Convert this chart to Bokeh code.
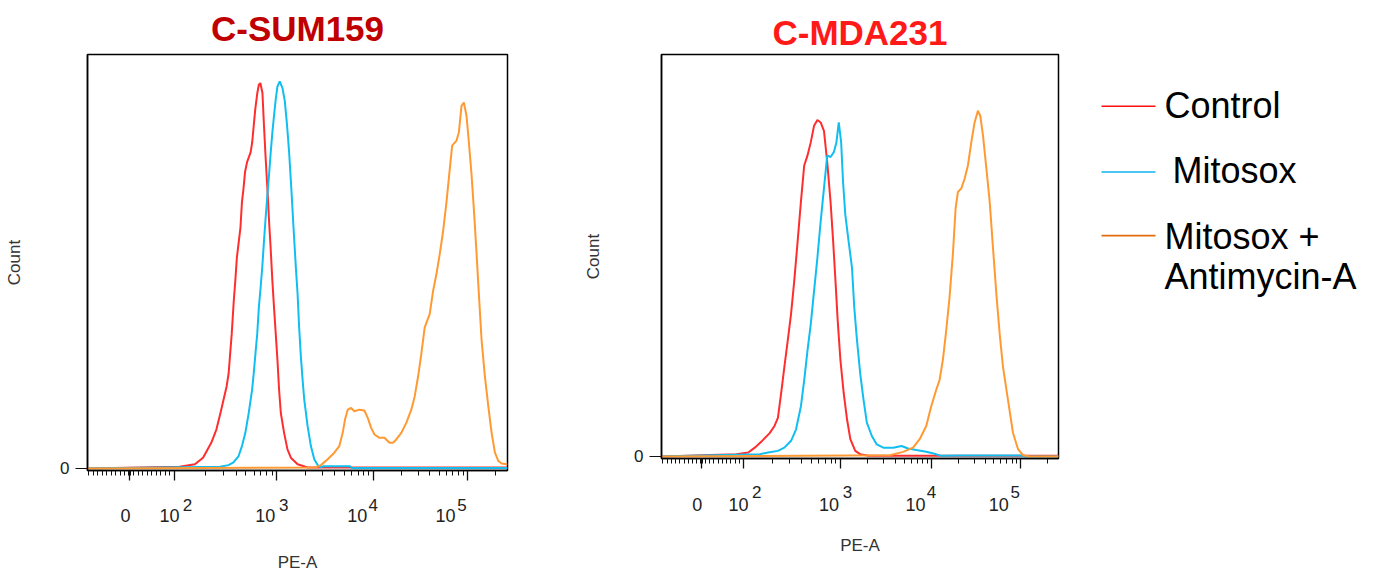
import numpy as np
from bokeh.plotting import figure
from bokeh.models import Range1d, FixedTicker, LinearAxis, Title
from bokeh.layouts import row
from bokeh.core.properties import value
from bokeh.embed import file_html
from bokeh.resources import INLINE

# ---------------- data (x = log10 of PE-A intensity, y = % of max count scale) ----------
series_names = ["Control", "Mitosox", "Mitosox + Antimycin-A"]
legend_lines = [["Control"], ["Mitosox"], ["Mitosox +", "Antimycin-A"]]
titles = ["C-SUM159", "C-MDA231"]

sum_ctrl_x = [2.05, 2.2, 2.28, 2.36, 2.41, 2.45, 2.48, 2.51, 2.53, 2.545, 2.56, 2.58, 2.595, 2.61, 2.645,
              2.66, 2.675, 2.69, 2.71, 2.745, 2.76, 2.775, 2.79, 2.81, 2.825, 2.84, 2.86, 2.875, 2.89, 2.91,
              2.925, 2.94, 2.957, 2.973, 2.99, 3.007, 3.024, 3.042, 3.076, 3.111, 3.146, 3.216, 3.32]
sum_ctrl_y = [0.4, 1.0, 2.6, 6.2, 9.4, 13.4, 16.6, 19.8, 23, 27.8, 32.5, 40.5, 45.3, 50.9, 58.1,
              64.4, 67.6, 71.6, 74, 76.4, 78.8, 82.8, 86.8, 90.7, 92.7, 93.1, 90.7, 82.8, 75.6, 66.8,
              59.6, 53.3, 45.3, 38.9, 32.5, 26.2, 19, 13.4, 8.6, 4.6, 2.6, 1.0, 0.24]

sum_mito_x = [2.446, 2.528, 2.577, 2.627, 2.66, 2.693, 2.726, 2.759, 2.775, 2.792, 2.809, 2.825, 2.842,
              2.858, 2.875, 2.891, 2.908, 2.924, 2.941, 2.957, 2.973, 2.99, 3.007, 3.031, 3.059, 3.083,
              3.104, 3.128, 3.153, 3.174, 3.198, 3.216, 3.232, 3.25, 3.268, 3.285, 3.32, 3.354, 3.389,
              3.424, 3.458, 3.48, 3.76, 3.78]
sum_mito_y = [0.4, 0.8, 1.44, 3.0, 5.4, 8.6, 13.4, 19, 23, 27.8, 32.5, 38.9, 43.7,
              48.5, 54.9, 60.5, 66, 70.8, 76.4, 81.2, 85.2, 89.2, 92.3, 93.5, 91.9, 88.8,
              83.6, 76.4, 66.8, 58.1, 48.5, 42.1, 34.1, 27, 21.4, 16.6, 10.2, 5.4, 2.2,
              0.8, 0.24, 0.5, 0.5, 0.1]

sum_anti_x = [3.406, 3.458, 3.528, 3.597, 3.649, 3.684, 3.708, 3.736, 3.771, 3.805, 3.857, 3.909, 3.944,
              3.979, 4.014, 4.067, 4.12, 4.173, 4.21, 4.245, 4.298, 4.351, 4.404, 4.44, 4.476, 4.511,
              4.546, 4.599, 4.635, 4.67, 4.705, 4.741, 4.777, 4.812, 4.837, 4.883, 4.908, 4.936, 4.961,
              4.989, 5.014, 5.043, 5.071, 5.096, 5.12, 5.149, 5.184, 5.22, 5.255, 5.29, 5.326, 5.362, 5.415]
sum_anti_y = [0.24, 0.8, 2.2, 3.8, 5.4, 8.6, 11.8, 14.2, 14.6, 13.8, 14.2, 14.0, 12.2,
              9.8, 8.2, 7.4, 7.4, 6.2, 6.2, 7.0, 8.6, 11, 14.2, 17.4, 22.2, 27.8,
              34.1, 37.3, 42.9, 46.9, 51.7, 57.3, 64.4, 72.4, 78, 79.2, 81.2, 87.6, 88.4,
              85.2, 78.8, 70.8, 61.2, 51.7, 42.1, 30.9, 22.2, 15, 8.6, 3.8, 1.8, 1.2, 1.0]

mda_ctrl_x = [1.92, 2.048, 2.115, 2.184, 2.269, 2.319, 2.354, 2.388, 2.421, 2.456, 2.49, 2.523, 2.558,
              2.592, 2.626, 2.66, 2.694, 2.728, 2.762, 2.796, 2.83, 2.864, 2.898, 2.925, 2.949, 2.972,
              3.0, 3.036, 3.073, 3.109, 3.163, 3.217, 3.308]
mda_ctrl_y = [0.57, 1.0, 2.2, 3.7, 5.8, 7.6, 9.6, 15.8, 22.3, 28.9, 35.5, 43.7, 53.5,
              63.4, 72.4, 74.9, 78.2, 82.3, 83.7, 83.1, 81, 73.2, 63.4, 53.5, 43.7, 33.8,
              24, 15.8, 9.2, 4.3, 1.4, 0.57, 0.16]

mda_mito_x = [2.166, 2.252, 2.354, 2.421, 2.49, 2.541, 2.592, 2.626, 2.66, 2.694, 2.728, 2.762, 2.796,
              2.83, 2.864, 2.898, 2.932, 2.959, 2.983, 3.008, 3.029, 3.054, 3.09, 3.127, 3.152, 3.182,
              3.217, 3.254, 3.29, 3.345, 3.399, 3.471, 3.58, 3.671, 3.743, 3.834, 3.942, 4.034, 4.109,
              4.3, 5.0, 5.05]
mda_mito_y = [0.57, 1.0, 1.4, 2.2, 3.9, 6.7, 12.5, 19, 26.4, 33, 41.2, 49.4, 58.5,
              66.7, 74.9, 74.5, 75.7, 78.2, 83.1, 78.2, 68.3, 60.1, 53.5, 47, 37.1, 28.9,
              20.7, 14.1, 8.4, 5.1, 3.0, 2.2, 2.2, 2.6, 2.0, 1.6, 1.2, 0.7, 0.16,
              0.25, 0.25, 0.0]

mda_anti_x = [3.543, 3.688, 3.797, 3.87, 3.942, 3.997, 4.053, 4.09, 4.127, 4.165, 4.202, 4.239, 4.27,
              4.296, 4.334, 4.371, 4.408, 4.446, 4.483, 4.52, 4.547, 4.577, 4.615, 4.652, 4.689, 4.727,
              4.764, 4.801, 4.857, 4.913, 4.97, 5.026, 5.101]
mda_anti_y = [0.33, 1.15, 2.2, 4.3, 7.6, 12.5, 16.6, 19, 24, 31.4, 39.6, 50.2, 61.7,
              65.8, 66.7, 69.1, 72.4, 78.2, 83.1, 86, 84.7, 79.8, 71.6, 63.4, 51.9, 40.4,
              30.5, 22.3, 14.1, 5.9, 1.8, 0.33, 0]

# axis ticks (PE-A values) and their labels
major_vals = [0, 100, 1000, 10000, 100000]
major_base = ["0", "10", "10", "10", "10"]
major_exp = ["", "2", "3", "4", "5"]
minor_vals = ([-v for v in range(10, 100, 10)] + [-2, 2] + list(range(10, 100, 10)) +
              list(range(200, 1000, 100)) + list(range(2000, 10000, 1000)) +
              list(range(20000, 100000, 10000)) + [200000])

# ---------------- styling ----------------
line_colors = ["#FF2E2E", "#10BEF0", "#FF9A33"]
legend_colors = ["#FF1010", "#10B0F0", "#E46C0A"]
title_colors = ["#C00000", "#FF1A1A"]
FONT = "Liberation Sans"
X_START, X_END = -0.42, 3.785
Y_START, Y_END = -0.5, 100
TOP, BOTTOM = 52, 104          # synced top / bottom borders of the row
BASE_DX = [-4, -5, -11.5, -16, -22]   # px shift of "0"/"10" label centres from their tick
EXP_DX = [0, 13, 7, 0, -5.5]          # px shift of exponent centres from their tick


def disp(v):
    """biexponential-like display transform (linear near 0, log above 100)."""
    v = np.asarray(v, dtype=float)
    lin = 0.45 * v / 100.0
    lg = np.interp(np.log10(np.maximum(v, 100.0)), [2, 3, 4, 5, 6],
                   [0.45, 1.475, 2.44, 3.385, 4.33])
    return np.where(v <= 100, lin, lg)


def make_chart(title, tcolor, curves, frame_w, frame_h, bl, br, title_off, title_standoff,
               exp_standoff, base_standoff, pe_standoff, count_standoff):
    width = bl + frame_w + br
    p = figure(width=width, height=TOP + frame_h + BOTTOM, x_range=Range1d(X_START, X_END),
               y_range=Range1d(Y_START, Y_END), toolbar_location=None, output_backend="svg",
               min_border_left=bl, min_border_right=br, min_border_top=TOP, min_border_bottom=BOTTOM)
    p.grid.visible = False
    p.outline_line_color = "black"
    p.outline_line_width = 1.5

    p.title = Title(text=title, align="center", offset=title_off, standoff=title_standoff,
                    text_font=FONT, text_font_size="35px", text_font_style="bold",
                    text_color=tcolor)

    ppu = frame_w / (X_END - X_START)

    # tick axis (ticks only)
    ax = p.xaxis[0]
    ax.ticker = FixedTicker(ticks=[float(t) for t in disp(major_vals)],
                            minor_ticks=[float(t) for t in disp(minor_vals)])
    ax.major_label_text_color = None
    ax.major_label_text_font_size = "0px"
    ax.major_label_standoff = 0
    ax.axis_line_color = "black"
    ax.axis_line_width = 1.5
    ax.major_tick_out = 10
    ax.major_tick_in = 0
    ax.minor_tick_out = 5
    ax.minor_tick_in = 0
    ax.major_tick_line_color = "#111111"
    ax.minor_tick_line_color = "#111111"
    ax.major_tick_line_width = 1.3
    ax.minor_tick_line_width = 1

    # exponent label row
    exp_pos, exp_over = [], {}
    for v, e, dx in zip(major_vals, major_exp, EXP_DX):
        if e:
            xp = round(float(disp(v)) + dx / ppu, 4)
            exp_pos.append(xp)
            exp_over[xp] = e
    axe = LinearAxis(ticker=FixedTicker(ticks=exp_pos, minor_ticks=[]),
                     major_label_overrides=exp_over, axis_line_color=None,
                     major_tick_out=0, major_tick_in=0, minor_tick_out=0, minor_tick_in=0,
                     major_label_standoff=exp_standoff, major_label_text_font=FONT,
                     major_label_text_font_size="17px", major_label_text_color="#222222")
    p.add_layout(axe, "below")

    # base label row ("0", "10") + axis title
    base_pos, base_over = [], {}
    for v, b, dx in zip(major_vals, major_base, BASE_DX):
        xp = round(float(disp(v)) + dx / ppu, 4)
        base_pos.append(xp)
        base_over[xp] = b
    axb = LinearAxis(ticker=FixedTicker(ticks=base_pos, minor_ticks=[]),
                     major_label_overrides=base_over, axis_line_color=None,
                     major_tick_out=0, major_tick_in=0, minor_tick_out=0, minor_tick_in=0,
                     major_label_standoff=base_standoff, major_label_text_font=FONT,
                     major_label_text_font_size="18px", major_label_text_color="#222222",
                     axis_label="PE-A", axis_label_standoff=pe_standoff,
                     axis_label_text_font=FONT, axis_label_text_font_size="17px",
                     axis_label_text_font_style="normal", axis_label_text_color="#333333")
    p.add_layout(axb, "below")

    ay = p.yaxis[0]
    ay.ticker = FixedTicker(ticks=[0], minor_ticks=[])
    ay.axis_line_color = "black"
    ay.axis_line_width = 1.5
    ay.major_tick_out = 12
    ay.major_tick_in = 0
    ay.major_tick_line_color = "#111111"
    ay.major_label_text_font = FONT
    ay.major_label_text_font_size = "17px"
    ay.major_label_text_color = "#222222"
    ay.major_label_standoff = 6
    ay.axis_label = "Count"
    ay.axis_label_standoff = count_standoff
    ay.axis_label_text_font = FONT
    ay.axis_label_text_font_size = "17px"
    ay.axis_label_text_font_style = "normal"
    ay.axis_label_text_color = "#333333"

    for (lx, ly), col in zip(curves, line_colors):
        xs = [X_START] + [float(t) for t in disp(10.0 ** np.asarray(lx))] + [X_END]
        ys = [0.0] + list(ly) + [ly[-1]]
        p.line(xs, ys, line_color=col, line_width=2)
    return p


p1 = make_chart(titles[0], title_colors[0],
                [(sum_ctrl_x, sum_ctrl_y), (sum_mito_x, sum_mito_y), (sum_anti_x, sum_anti_y)],
                420, 418, 87, 74, -8, 13, 18, -5, 28, 33)
p2 = make_chart(titles[1], title_colors[1],
                [(mda_ctrl_x, mda_ctrl_y), (mda_mito_x, mda_mito_y), (mda_anti_x, mda_anti_y)],
                397, 406, 80, 20, -40, 5, 17, -3, 22, 28)

# ---------------- legend panel (page-pixel coordinates) ----------------
p3 = figure(width=300, height=TOP + 418 + BOTTOM, x_range=Range1d(1078, 1378),
            y_range=Range1d(TOP + 418, TOP), toolbar_location=None, output_backend="svg",
            min_border_left=0, min_border_right=0, min_border_top=TOP, min_border_bottom=BOTTOM,
            x_axis_location=None, y_axis_location=None)
p3.grid.visible = False
p3.outline_line_color = None
leg_line_y = [104, 170, 234]
p3.segment(x0=[1101] * 3, y0=leg_line_y, x1=[1155] * 3, y1=leg_line_y,
           line_color=legend_colors, line_width=1.6)
txt, tx, ty = [], [], []
text_x = [1164, 1172, 1164]
text_y = [[103], [169], [235, 275]]
for lines, x0, ys in zip(legend_lines, text_x, text_y):
    for t, y0 in zip(lines, ys):
        txt.append(t)
        tx.append(x0)
        ty.append(y0)
p3.text(x=tx, y=ty, text=txt, text_baseline="middle", text_align="left",
        text_font=value(FONT), text_font_size="36px", text_color="black")

layout = row(p1, p2, p3)
open("out.html", "w").write(file_html(layout, INLINE))
